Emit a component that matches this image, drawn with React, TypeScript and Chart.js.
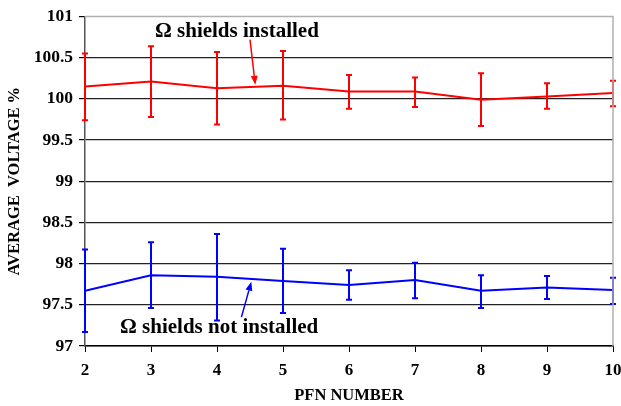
import React, { useEffect, useRef } from "react";
import { Chart, registerables } from "chart.js";

Chart.register(...registerables);

const pfn = [2, 3, 4, 5, 6, 7, 8, 9, 10];
const installedMean = [100.15, 100.21, 100.13, 100.16, 100.09, 100.09, 99.99, 100.03, 100.07];
const installedHigh = [100.55, 100.64, 100.57, 100.58, 100.29, 100.26, 100.31, 100.19, 100.22];
const installedLow = [99.74, 99.78, 99.69, 99.75, 99.88, 99.9, 99.67, 99.88, 99.91];
const notInstalledMean = [97.67, 97.86, 97.84, 97.79, 97.74, 97.8, 97.67, 97.71, 97.68];
const notInstalledHigh = [98.17, 98.26, 98.36, 98.18, 97.92, 98.01, 97.86, 97.85, 97.83];
const notInstalledLow = [97.17, 97.46, 97.31, 97.4, 97.56, 97.58, 97.46, 97.57, 97.51];

const annotations = [
  { text: "Ω shields installed", x: 3.06, y: 100.82, ax0: 4.5, ay0: 100.72, ax1: 4.58, ay1: 100.17 },
  { text: "Ω shields not installed", x: 2.53, y: 97.22, ax0: 4.37, ay0: 97.35, ax1: 4.52, ay1: 97.78 },
];

const FONT = "'Liberation Serif', 'Times New Roman', serif";

const errorBarPlugin = {
  id: "errorBars",
  afterDatasetsDraw(chart: any) {
    const { ctx, scales } = chart;
    const xs = scales.x, ys = scales.y;
    const sets = [
      { hi: installedHigh, lo: installedLow, color: "#ff0000" },
      { hi: notInstalledHigh, lo: notInstalledLow, color: "#0000ff" },
    ];
    ctx.save();
    sets.forEach((s) => {
      ctx.strokeStyle = s.color;
      ctx.lineWidth = 2;
      pfn.forEach((p, i) => {
        const x = xs.getPixelForValue(p);
        const yh = ys.getPixelForValue(s.hi[i]);
        const yl = ys.getPixelForValue(s.lo[i]);
        ctx.beginPath();
        ctx.moveTo(x, yh);
        ctx.lineTo(x, yl);
        ctx.moveTo(x - 3, yh);
        ctx.lineTo(x + 3, yh);
        ctx.moveTo(x - 3, yl);
        ctx.lineTo(x + 3, yl);
        ctx.stroke();
      });
    });
    ctx.restore();
  },
};

const annotationPlugin = {
  id: "annots",
  afterDraw(chart: any) {
    const { ctx, scales } = chart;
    const xs = scales.x, ys = scales.y;
    ctx.save();
    annotations.forEach((a) => {
      ctx.fillStyle = "#000";
      ctx.font = `bold 21px ${FONT}`;
      ctx.textBaseline = "middle";
      ctx.textAlign = "left";
      ctx.fillText(a.text, xs.getPixelForValue(a.x), ys.getPixelForValue(a.y));
      const x0 = xs.getPixelForValue(a.ax0), y0 = ys.getPixelForValue(a.ay0);
      const x1 = xs.getPixelForValue(a.ax1), y1 = ys.getPixelForValue(a.ay1);
      const ang = Math.atan2(y1 - y0, x1 - x0);
      const len = 9, w = 3.5;
      const bx = x1 - len * Math.cos(ang), by = y1 - len * Math.sin(ang);
      const color = a.ay1 > 99 ? "#ff0000" : "#0000ff";
      ctx.strokeStyle = color;
      ctx.fillStyle = color;
      ctx.lineWidth = 1.5;
      ctx.beginPath();
      ctx.moveTo(x0, y0);
      ctx.lineTo(bx, by);
      ctx.stroke();
      ctx.beginPath();
      ctx.moveTo(x1, y1);
      ctx.lineTo(bx + w * Math.sin(ang), by - w * Math.cos(ang));
      ctx.lineTo(bx - w * Math.sin(ang), by + w * Math.cos(ang));
      ctx.closePath();
      ctx.fill();
    });
    const ca = chart.chartArea;
    ctx.strokeStyle = "#b0b0b0";
    ctx.lineWidth = 1.5;
    ctx.beginPath();
    ctx.moveTo(ca.left, ca.top);
    ctx.lineTo(ca.right, ca.top);
    ctx.lineTo(ca.right, ca.bottom);
    ctx.stroke();
    ctx.restore();
  },
};

export default function App() {
  const ref = useRef<HTMLCanvasElement>(null);
  useEffect(() => {
    document.body.style.margin = "0";
    const chart = new Chart(ref.current!, {
      type: "line",
      data: {
        datasets: [
          {
            data: pfn.map((p, i) => ({ x: p, y: installedMean[i] })),
            borderColor: "#ff0000",
            borderWidth: 2,
            pointRadius: 0,
            tension: 0,
          },
          {
            data: pfn.map((p, i) => ({ x: p, y: notInstalledMean[i] })),
            borderColor: "#0000ff",
            borderWidth: 2,
            pointRadius: 0,
            tension: 0,
          },
        ],
      },
      options: {
        animation: false,
        responsive: false,
        layout: { padding: { left: 0, right: 0, top: 15, bottom: 0 } },
        plugins: { legend: { display: false }, tooltip: { enabled: false } },
        scales: {
          x: {
            type: "linear",
            min: 2,
            max: 10,
            afterFit: (s: any) => { s.height = 60; s.paddingRight = 8; s.paddingLeft = 0; },
            ticks: { stepSize: 1, color: "#000", font: { family: FONT, weight: "bold", size: 17 }, padding: 8 },
            grid: { drawOnChartArea: false, drawTicks: true, tickLength: 6, color: "#000" },
            border: { color: "#000", width: 1.5 },
            title: { display: true, text: "PFN NUMBER", color: "#000", font: { family: FONT, weight: "bold", size: 16.5 }, padding: { top: 2, bottom: 0 } },
          },
          y: {
            min: 97,
            max: 101,
            afterFit: (s: any) => { s.width = 85; },
            ticks: {
              stepSize: 0.5,
              color: "#000",
              font: { family: FONT, weight: "bold", size: 17.5 },
              padding: 6,
              callback: (v: any) => String(Number(v)),
            },
            grid: {
              color: (c: any) => (c.tick && c.tick.value === 101 ? "rgba(0,0,0,0)" : "#222"),
              tickColor: "#000",
              tickLength: 6,
              lineWidth: 1.2,
            },
            border: { color: "#555", width: 1.5 },
            title: { display: true, text: "AVERAGE  VOLTAGE %", color: "#000", font: { family: FONT, weight: "bold", size: 16.5 }, padding: { top: 5, bottom: 4 } },
          },
        },
      },
      plugins: [errorBarPlugin, annotationPlugin],
    } as any);
    return () => chart.destroy();
  }, []);
  return <canvas ref={ref} width={621} height={406} style={{ display: "block" }} />;
}
